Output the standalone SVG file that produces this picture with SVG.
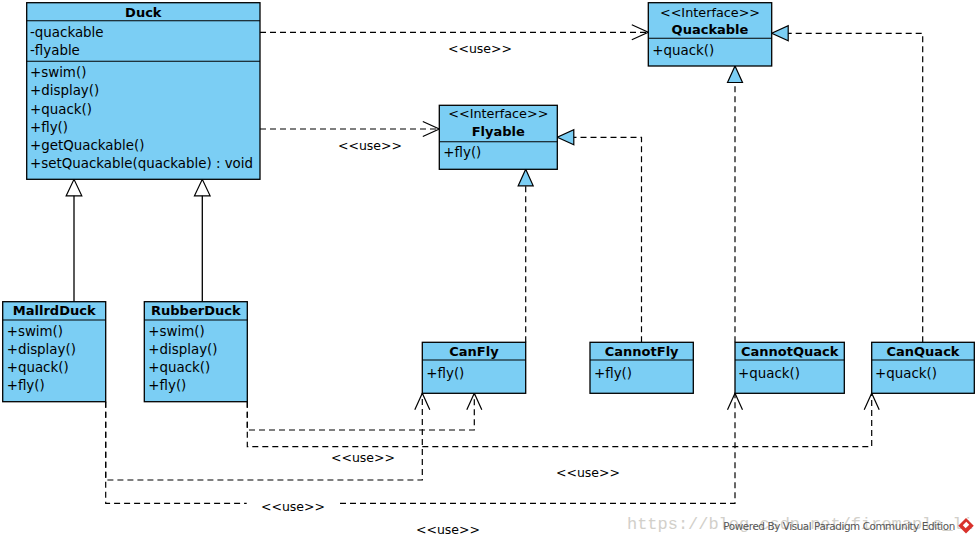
<svg xmlns="http://www.w3.org/2000/svg" width="978" height="543" viewBox="0 0 978 543">
<style>
.box{fill:#7BCEF4;stroke:#000;stroke-width:1.3}
.dv{stroke:#000;stroke-width:1.1}
text{font-family:"DejaVu Sans",sans-serif;font-size:13.4px;fill:#000}
.nm{font-weight:bold;text-anchor:middle;font-size:13px}
.st{text-anchor:middle;font-size:12.8px}
.lbl{text-anchor:middle;font-size:12.5px}
.dash{fill:none;stroke:#000;stroke-width:1.2;stroke-dasharray:6 4}
.solid{fill:none;stroke:#000;stroke-width:1.3}
</style>
<defs>
<marker id="open" markerUnits="userSpaceOnUse" markerWidth="18" markerHeight="16" refX="16.5" refY="7.5" orient="auto" overflow="visible">
<path d="M0,0 L16.5,7.5 L0,15" fill="none" stroke="#000" stroke-width="1.2"/>
</marker>
<marker id="real" markerUnits="userSpaceOnUse" markerWidth="18" markerHeight="16" refX="16.5" refY="7.5" orient="auto" overflow="visible">
<path d="M0,0 L16.5,7.5 L0,15 Z" fill="#7BCEF4" stroke="#000" stroke-width="1.2"/>
</marker>
<marker id="gen" markerUnits="userSpaceOnUse" markerWidth="18" markerHeight="17" refX="16.5" refY="7.8" orient="auto" overflow="visible">
<path d="M0,0 L16.5,7.8 L0,15.6 Z" fill="#fff" stroke="#000" stroke-width="1.2"/>
</marker>
</defs>
<rect width="978" height="543" fill="#fff"/>

<g id="connectors">
<path class="dash" d="M260,32.3 H648.3" marker-end="url(#open)"/>
<path class="dash" d="M260,129 H439.3" marker-end="url(#open)"/>
<path class="dash" d="M922.7,342.3 V33.3 H771.7" marker-end="url(#real)"/>
<path class="dash" d="M735,342.3 V66" marker-end="url(#real)"/>
<path class="dash" d="M641.5,342.3 V137.3 H557.3" marker-end="url(#real)"/>
<path class="dash" d="M525.7,342.3 V169.3" marker-end="url(#real)"/>
<path class="solid" d="M74,301.7 V179.3" marker-end="url(#gen)"/>
<path class="solid" d="M202.3,301.7 V179.3" marker-end="url(#gen)"/>
<path class="dash" d="M105.7,401.7 V480 H422.3 V393.3" marker-end="url(#open)"/>
<path class="dash" d="M105.7,401.7 V503.3 H246.7 M340,503.3 H735 V393.3" marker-end="url(#open)"/>
<path class="dash" d="M247.3,401.7 V430 H474.3 V393.3" marker-end="url(#open)"/>
<path class="dash" d="M247.3,401.7 V446.7 H871.7 V393.3" marker-end="url(#open)"/>
<text class="lbl" x="480" y="53">&lt;&lt;use&gt;&gt;</text>
<text class="lbl" x="370" y="150">&lt;&lt;use&gt;&gt;</text>
<text class="lbl" x="363" y="462">&lt;&lt;use&gt;&gt;</text>
<text class="lbl" x="588" y="477">&lt;&lt;use&gt;&gt;</text>
<text class="lbl" x="293" y="511">&lt;&lt;use&gt;&gt;</text>
<text class="lbl" x="448" y="534">&lt;&lt;use&gt;&gt;</text>
</g>

<g id="Duck">
<rect class="box" x="26.7" y="2.7" width="233.3" height="176.6"/>
<line class="dv" x1="26.7" y1="20.7" x2="260" y2="20.7"/>
<line class="dv" x1="26.7" y1="61.3" x2="260" y2="61.3"/>
<text class="nm" x="143.3" y="16.7">Duck</text>
<text x="30" y="36.7">-quackable</text>
<text x="30" y="55">-flyable</text>
<text x="30" y="77.3">+swim()</text>
<text x="30" y="95.4">+display()</text>
<text x="30" y="113.5">+quack()</text>
<text x="30" y="131.6">+fly()</text>
<text x="30" y="149.7">+getQuackable()</text>
<text x="30" y="167.8">+setQuackable(quackable) : void</text>
</g>

<g id="Quackable">
<rect class="box" x="648.3" y="2.7" width="123.4" height="63.3"/>
<line class="dv" x1="648.3" y1="38.3" x2="771.7" y2="38.3"/>
<text class="st" x="710" y="17.3">&lt;&lt;Interface&gt;&gt;</text>
<text class="nm" x="710" y="34.3">Quackable</text>
<text x="652.3" y="55">+quack()</text>
</g>

<g id="Flyable">
<rect class="box" x="439.3" y="105.3" width="118" height="64"/>
<line class="dv" x1="439.3" y1="141.7" x2="557.3" y2="141.7"/>
<text class="st" x="498.3" y="118.3">&lt;&lt;Interface&gt;&gt;</text>
<text class="nm" x="498.3" y="136">Flyable</text>
<text x="443.3" y="156.7">+fly()</text>
</g>

<g id="MallrdDuck">
<rect class="box" x="2.7" y="301.7" width="103" height="100"/>
<line class="dv" x1="2.7" y1="320" x2="105.7" y2="320"/>
<text class="nm" x="54.2" y="315">MallrdDuck</text>
<text x="6.7" y="335.7">+swim()</text>
<text x="6.7" y="353.8">+display()</text>
<text x="6.7" y="371.9">+quack()</text>
<text x="6.7" y="390">+fly()</text>
</g>

<g id="RubberDuck">
<rect class="box" x="144.3" y="301.7" width="103" height="100"/>
<line class="dv" x1="144.3" y1="320" x2="247.3" y2="320"/>
<text class="nm" x="195.8" y="315">RubberDuck</text>
<text x="148.3" y="335.7">+swim()</text>
<text x="148.3" y="353.8">+display()</text>
<text x="148.3" y="371.9">+quack()</text>
<text x="148.3" y="390">+fly()</text>
</g>

<g id="CanFly">
<rect class="box" x="422.3" y="342.3" width="103.4" height="51"/>
<line class="dv" x1="422.3" y1="360" x2="525.7" y2="360"/>
<text class="nm" x="474" y="355.7">CanFly</text>
<text x="426.3" y="377.7">+fly()</text>
</g>

<g id="CannotFly">
<rect class="box" x="590" y="342.3" width="103.3" height="51"/>
<line class="dv" x1="590" y1="360" x2="693.3" y2="360"/>
<text class="nm" x="641.7" y="355.7">CannotFly</text>
<text x="594" y="377.7">+fly()</text>
</g>

<g id="CannotQuack">
<rect class="box" x="735" y="342.3" width="109.3" height="51"/>
<line class="dv" x1="735" y1="360" x2="844.3" y2="360"/>
<text class="nm" x="789.7" y="355.7">CannotQuack</text>
<text x="738" y="377.7">+quack()</text>
</g>

<g id="CanQuack">
<rect class="box" x="871.7" y="342.3" width="102.6" height="51"/>
<line class="dv" x1="871.7" y1="360" x2="974.3" y2="360"/>
<text class="nm" x="923" y="355.7">CanQuack</text>
<text x="875" y="377.7">+quack()</text>
</g>

<g id="watermark">
<text x="627" y="529" style="font-family:'Liberation Mono',monospace;font-size:17px;fill:#d2d0ca" textLength="346">https://blog.csdn.net/firemaple_li</text>
<text x="723.3" y="530" style="font-size:10.4px;fill:#555" textLength="232">Powered By Visual Paradigm Community Edition</text>
<g transform="translate(966,525.7) rotate(45)">
<rect x="-5.5" y="-5.5" width="11" height="11" fill="#d8312b"/>
<rect x="-2.5" y="-3" width="4" height="5" fill="#fff"/>
</g>
</g>
</svg>
